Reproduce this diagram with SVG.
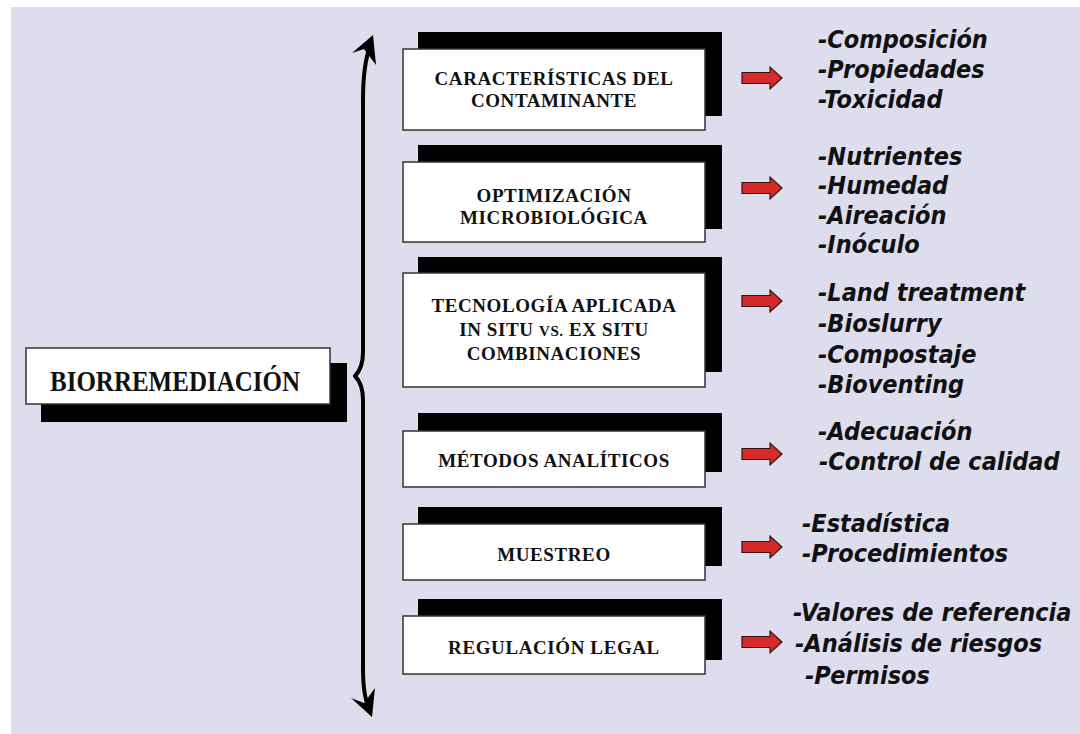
<svg xmlns="http://www.w3.org/2000/svg" width="1080" height="734" viewBox="0 0 1080 734">
  <defs>
    <style>
      .panel { fill: #dddded; }
      .shadow { fill: #000; }
      .card { fill: #fff; stroke: #333; stroke-width: 1.5; }
      .title { font-family: "Liberation Serif", "Times New Roman", serif; font-weight: bold; font-size: 19px; letter-spacing: 0.6px; fill: #111; text-anchor: middle; }
      .root { font-size: 25px; letter-spacing: 0; }
      .item { font-family: "DejaVu Sans", Verdana, sans-serif; font-weight: bold; font-style: italic; font-size: 22.5px; fill: #111; }
      .brace { fill: none; stroke: #000; stroke-width: 4; stroke-linecap: round; stroke-linejoin: round; }
      .tip { fill: #000; }
      .block-arrow { fill: #d42a2a; stroke: #3a1010; stroke-width: 1.2; stroke-linejoin: miter; }
    </style>
    <!-- red block arrow, drawn around (0,0) at the vertical centre -->
    <path id="block-arrow" class="block-arrow" d="M0,-5.5 L28,-5.5 L28,-11 L40,0 L28,11 L28,5.5 L0,5.5 Z"/>
  </defs>

  <!-- page background -->
  <rect x="0" y="0" width="1080" height="734" fill="#fff"/>
  <rect class="panel" x="11" y="7" width="1069" height="727"/>

  <!-- root node -->
  <g id="node-biorremediacion">
    <rect class="shadow" x="41" y="363" width="306" height="59"/>
    <rect class="card" x="26" y="348" width="304" height="56"/>
    <text class="title root" transform="translate(175 391) scale(1 1.15)">BIORREMEDIACIÓN</text>
  </g>

  <!-- connectors: brace with arrowheads and red block arrows -->
  <g id="connectors">
    <path class="brace" d="M370,46 C365,60 363,80 363,100 L363,352 C363,365 360,371 355,376 C360,381 363,387 363,400 L363,668 C363,688 365,700 369,707"/>
    <polygon class="tip" points="373,35 352,53 364,49 376,65"/>
    <polygon class="tip" points="372,717 351,698 364,703 375,688"/>
    <use href="#block-arrow" x="742" y="78"/>
    <use href="#block-arrow" x="742" y="188"/>
    <use href="#block-arrow" x="742" y="301"/>
    <use href="#block-arrow" x="742" y="454"/>
    <use href="#block-arrow" x="742" y="547"/>
    <use href="#block-arrow" x="742" y="642"/>
  </g>

  <g id="node-caracteristicas">
    <rect class="shadow" x="418" y="32" width="304" height="84"/>
    <rect class="card" x="403" y="49" width="302" height="81"/>
    <text class="title" x="554" y="85">CARACTERÍSTICAS DEL</text>
    <text class="title" x="554" y="107">CONTAMINANTE</text>
  </g>

  <g id="node-optimizacion">
    <rect class="shadow" x="418" y="145" width="304" height="84"/>
    <rect class="card" x="403" y="162" width="302" height="80"/>
    <text class="title" x="554" y="202">OPTIMIZACIÓN</text>
    <text class="title" x="554" y="224">MICROBIOLÓGICA</text>
  </g>

  <g id="node-tecnologia">
    <rect class="shadow" x="418" y="257" width="304" height="115"/>
    <rect class="card" x="403" y="273" width="302" height="114"/>
    <text class="title" x="554" y="312">TECNOLOGÍA APLICADA</text>
    <text class="title" x="554" y="336">IN SITU <tspan font-size="15">VS.</tspan> EX SITU</text>
    <text class="title" x="554" y="360">COMBINACIONES</text>
  </g>

  <g id="node-metodos">
    <rect class="shadow" x="418" y="413" width="304" height="59"/>
    <rect class="card" x="403" y="431" width="302" height="56"/>
    <text class="title" x="554" y="467">MÉTODOS ANALÍTICOS</text>
  </g>

  <g id="node-muestreo">
    <rect class="shadow" x="418" y="507" width="304" height="59"/>
    <rect class="card" x="403" y="524" width="302" height="56"/>
    <text class="title" x="554" y="561">MUESTREO</text>
  </g>

  <g id="node-regulacion">
    <rect class="shadow" x="418" y="599" width="304" height="61"/>
    <rect class="card" x="403" y="616" width="302" height="58"/>
    <text class="title" x="554" y="654">REGULACIÓN LEGAL</text>
  </g>

  <!-- detail lists -->
  <g id="list-caracteristicas">
    <text class="item" transform="translate(818 48) scale(1 1.12)">-Composición</text>
    <text class="item" transform="translate(818 78) scale(1 1.12)">-Propiedades</text>
    <text class="item" transform="translate(818 108) scale(1 1.12)">-Toxicidad</text>
  </g>
  <g id="list-optimizacion">
    <text class="item" transform="translate(818 165) scale(1 1.12)">-Nutrientes</text>
    <text class="item" transform="translate(818 194) scale(1 1.12)">-Humedad</text>
    <text class="item" transform="translate(818 224) scale(1 1.12)">-Aireación</text>
    <text class="item" transform="translate(818 253) scale(1 1.12)">-Inóculo</text>
  </g>
  <g id="list-tecnologia">
    <text class="item" transform="translate(818 301) scale(1 1.12)">-Land treatment</text>
    <text class="item" transform="translate(818 332) scale(1 1.12)">-Bioslurry</text>
    <text class="item" transform="translate(818 363) scale(1 1.12)">-Compostaje</text>
    <text class="item" transform="translate(818 393) scale(1 1.12)">-Bioventing</text>
  </g>
  <g id="list-metodos">
    <text class="item" transform="translate(818 440) scale(1 1.12)">-Adecuación</text>
    <text class="item" transform="translate(819 470) scale(1 1.12)">-Control de calidad</text>
  </g>
  <g id="list-muestreo">
    <text class="item" transform="translate(802 532) scale(1 1.12)">-Estadística</text>
    <text class="item" transform="translate(802 562) scale(1 1.12)">-Procedimientos</text>
  </g>
  <g id="list-regulacion">
    <text class="item" transform="translate(793 621) scale(1 1.12)">-Valores de referencia</text>
    <text class="item" transform="translate(795 652) scale(1 1.12)">-Análisis de riesgos</text>
    <text class="item" transform="translate(805 684) scale(1 1.12)">-Permisos</text>
  </g>
</svg>
